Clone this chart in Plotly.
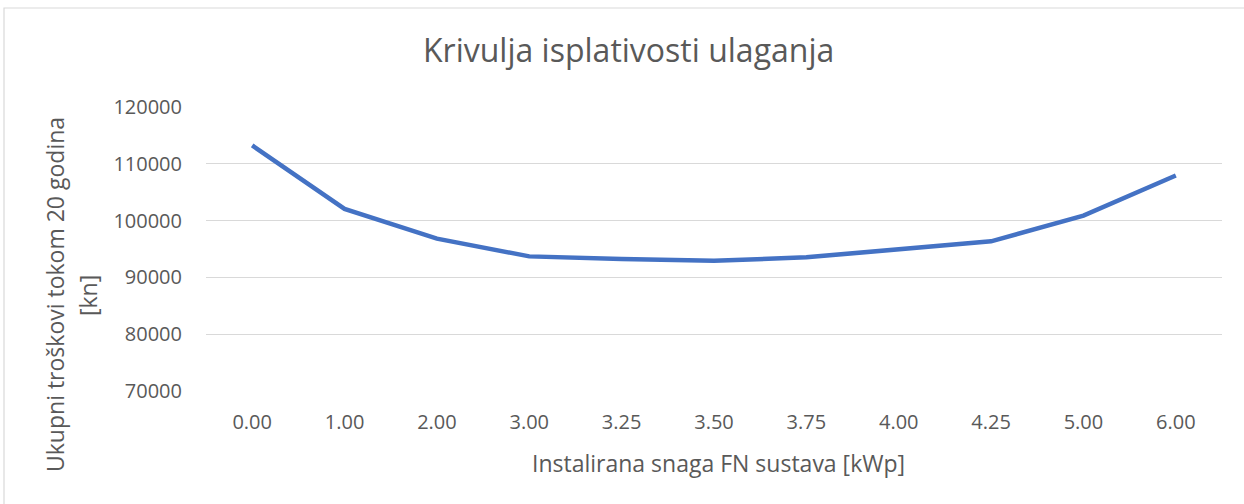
import plotly.graph_objects as go

categories = ["0.00", "1.00", "2.00", "3.00", "3.25", "3.50", "3.75", "4.00", "4.25", "5.00", "6.00"]
costs = [113230, 102060, 96820, 93700, 93240, 92940, 93530, 94920, 96350, 100880, 107940]

title_text = "Krivulja isplativosti ulaganja"
x_title = "Instalirana snaga FN sustava [kWp]"
y_title_1 = "Ukupni troškovi tokom 20 godina"
y_title_2 = "[kn]"

FONT = "Open Sans"
TXT = "#595959"

W, H = 1244, 504
L, R, T, B = 206, 22, 107, 113
pw = W - L - R
ph = H - T - B

def px(x):
    return (x - L) / pw

def py(y):
    return (H - B - y) / ph

fig = go.Figure()
fig.add_trace(go.Scatter(
    x=categories, y=costs, mode="lines",
    line=dict(color="#4472C4", width=4.5, shape="linear"),
    hoverinfo="x+y", showlegend=False,
))

fig.update_layout(
    width=W, height=H,
    margin=dict(l=L, r=R, t=T, b=B),
    paper_bgcolor="white", plot_bgcolor="white",
    font=dict(family=FONT, color=TXT),
    xaxis=dict(
        type="category", range=[-0.5, len(categories) - 0.5],
        showgrid=False, showline=False, zeroline=False,
        ticks="outside", ticklen=13, tickcolor="rgba(0,0,0,0)",
        tickfont=dict(size=20, color=TXT, family=FONT),
    ),
    yaxis=dict(
        range=[70000, 120000], dtick=10000, tickformat="d",
        showgrid=True, gridcolor="#d9d9d9", gridwidth=1.2,
        showline=False, zeroline=False,
        ticks="outside", ticklen=19, tickcolor="rgba(0,0,0,0)",
        tickfont=dict(size=20, color=TXT, family=FONT),
    ),
    shapes=[dict(
        type="rect", xref="paper", yref="paper",
        x0=px(4), x1=px(1252), y0=py(512), y1=py(8),
        line=dict(color="#d9d9d9", width=1.2), fillcolor="rgba(0,0,0,0)", layer="below",
    )],
    annotations=[
        dict(text=title_text, xref="paper", yref="paper", x=px(628), y=py(50),
             xanchor="center", yanchor="middle", showarrow=False,
             font=dict(size=32, color=TXT, family=FONT)),
        dict(text=x_title, xref="paper", yref="paper", x=px(718), y=py(463),
             xanchor="center", yanchor="middle", showarrow=False,
             font=dict(size=23, color=TXT, family=FONT)),
        dict(text=y_title_1, xref="paper", yref="paper", x=px(55), y=py(295),
             xanchor="center", yanchor="middle", showarrow=False, textangle=-90,
             font=dict(size=23, color=TXT, family=FONT)),
        dict(text=y_title_2, xref="paper", yref="paper", x=px(88), y=py(296),
             xanchor="center", yanchor="middle", showarrow=False, textangle=-90,
             font=dict(size=23, color=TXT, family=FONT)),
    ],
)

fig.write_html(
    "out.html",
    config={"displayModeBar": False},
    post_script="document.body.style.margin='0';document.body.style.overflow='hidden';",
)
